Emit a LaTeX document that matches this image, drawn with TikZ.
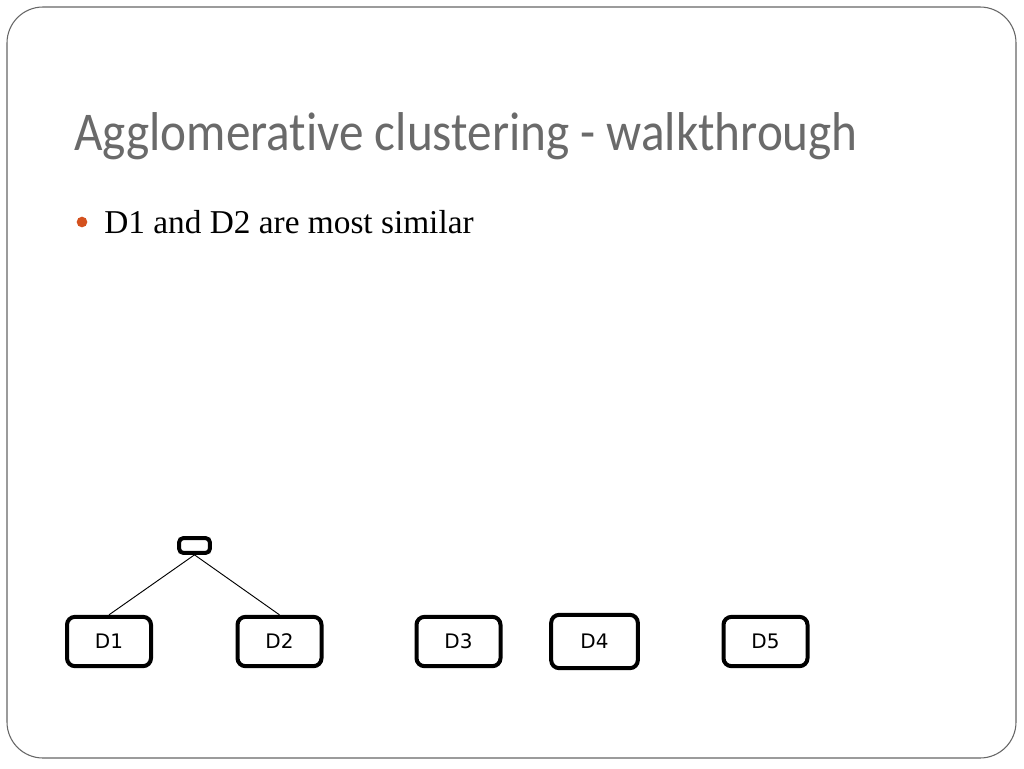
\documentclass[tikz,border=0pt]{standalone}
\usepackage{fontspec}
\setmainfont{Liberation Serif}
\newfontfamily\titlefont[FakeStretch=0.9, RawFeature=-liga]{Carlito}
\newfontfamily\boxfont{DejaVu Sans}
\definecolor{titlegray}{HTML}{6A6A6A}
\definecolor{bulletred}{HTML}{D4511E}
\tikzset{
  doc/.style={draw, line width=3pt, rounded corners=6pt, minimum width=63pt, minimum height=37pt, font=\boxfont\fontsize{15}{17}\selectfont},
  merge/.style={draw, line width=3pt, rounded corners=3pt, minimum width=23pt, minimum height=11pt, inner sep=0pt}
}
\begin{document}
\begin{tikzpicture}[x=0.75pt,y=-0.75pt]
			\useasboundingbox (0,0) rectangle (1024,768);
			\draw[gray!80!black, line width=0.8pt, rounded corners=27pt] (7,7) rectangle (1016,758);
			\node[anchor=base west, inner sep=0pt, text=titlegray, font=\titlefont\fontsize{41}{48}\selectfont] (title) at (74,150) {Agglomerative clustering - walkthrough};
			\fill[bulletred] (82,222) circle (4pt);
			\node[anchor=base west, inner sep=0pt, font=\fontsize{25}{30}\selectfont] (point) at (104,233) {D1 and D2 are most similar};
			% leaves
			\node[doc] (d1) at (109,641.5) {D1};
			\node[doc] (d2) at (279.5,641.5) {D2};
			\node[doc] (d3) at (458.5,641.5) {D3};
			\node[doc, minimum width=65pt, minimum height=40pt] (d4) at (594.5,641.5) {D4};
			\node[doc] (d5) at (765.5,641.5) {D5};
			% merged cluster
			\node[merge] (d12) at (194.5,545.5) {};
			\draw[line width=0.7pt] (d12.south) -- (d1.north);
			\draw[line width=0.7pt] (d12.south) -- (d2.north);
\end{tikzpicture}
\end{document}
